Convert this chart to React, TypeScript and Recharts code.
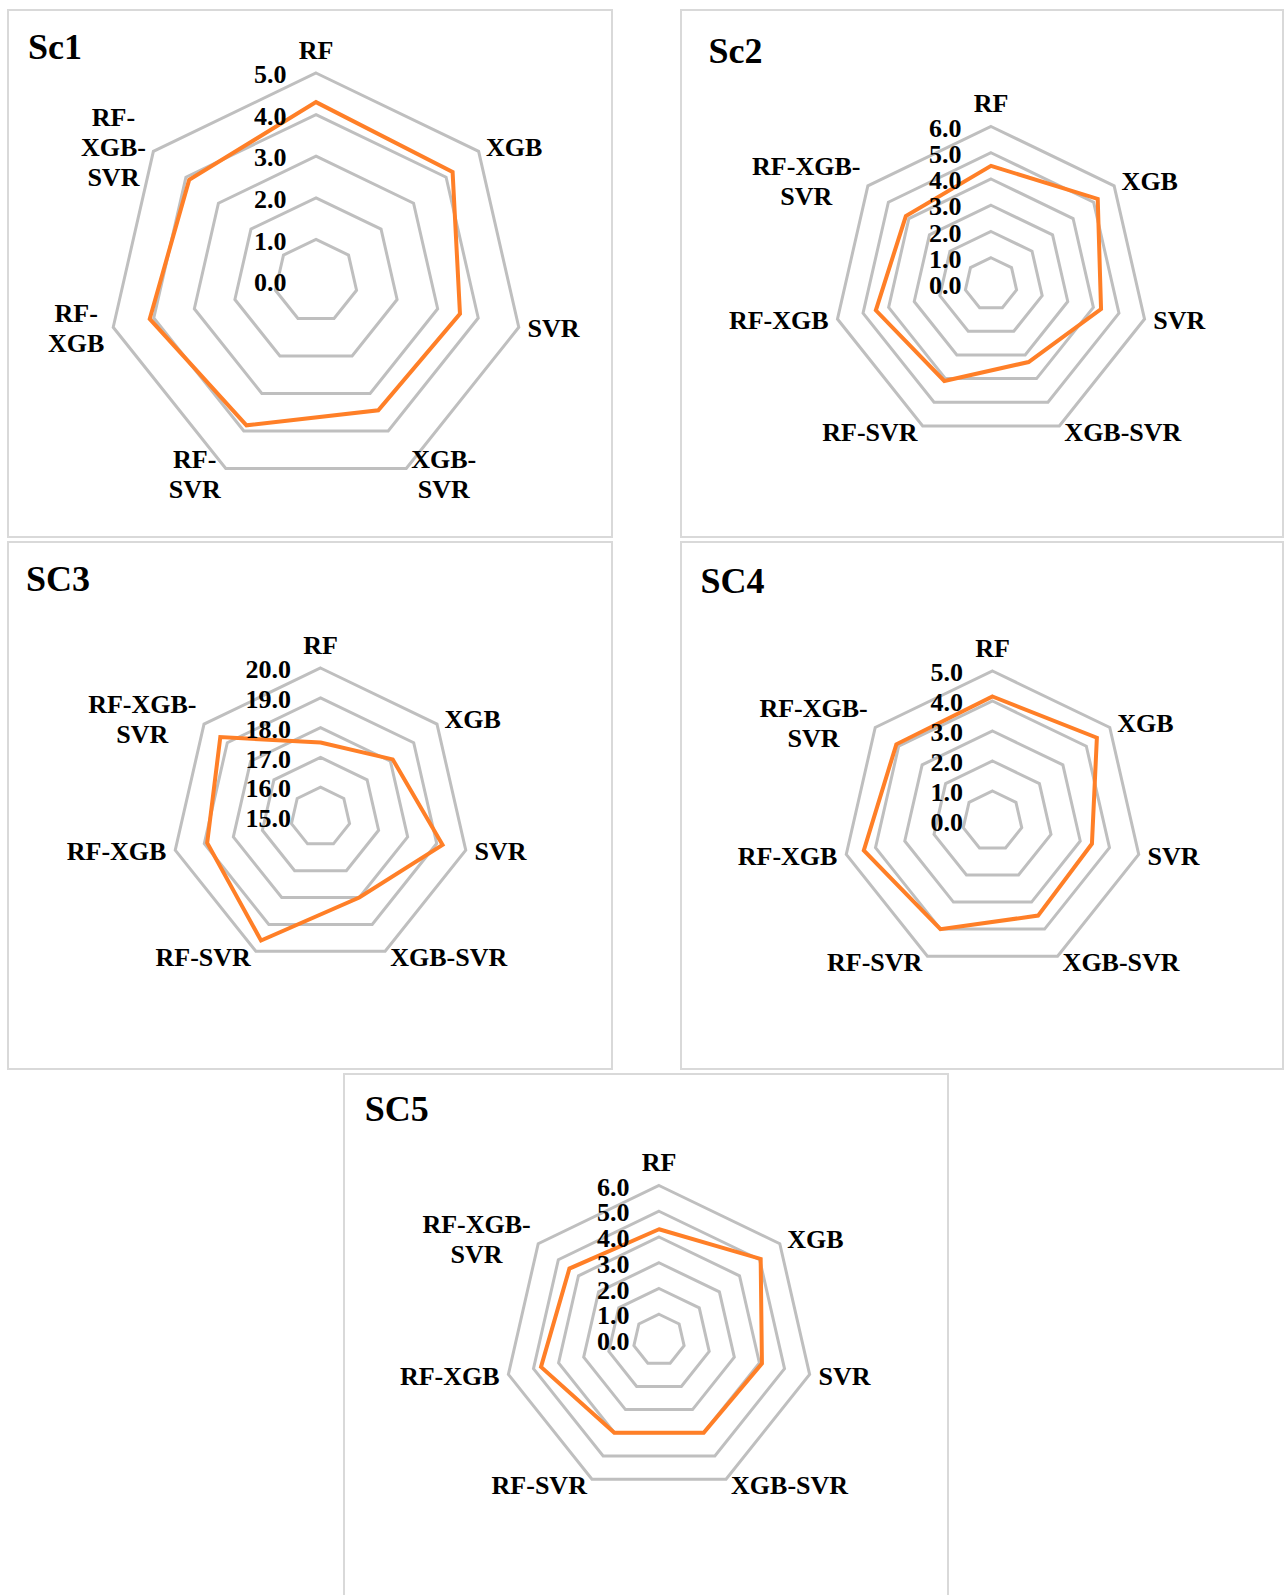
import React from "react";
import {
  RadarChart,
  Radar,
  PolarGrid,
  PolarAngleAxis,
  PolarRadiusAxis,
} from "recharts";

const FONT = '"Liberation Serif", "Times New Roman", serif';
const GRID = "#bfbfbf";
const LINE = "#ff7f27";
const BORDER = "#d9d9d9";

const CATEGORIES = ["RF", "XGB", "SVR", "XGB-SVR", "RF-SVR", "RF-XGB", "RF-XGB-SVR"];

// one value per model, in CATEGORIES order
const SC1 = [4.3, 4.2, 3.55, 3.45, 3.85, 4.1, 3.9];
const SC2 = [4.5, 5.2, 4.3, 3.3, 4.1, 4.5, 4.15];
const SC3 = [17.5, 18.1, 19.2, 18.0, 19.6, 18.9, 19.3];
const SC4 = [4.15, 4.45, 3.4, 3.5, 4.0, 4.4, 4.1];
const SC5 = [4.3, 5.05, 4.1, 4.0, 4.0, 4.7, 4.45];

// radial scale per scenario: [min, max], one ring per unit
const DOMAIN_SC1 = [0, 5];
const DOMAIN_SC2 = [0, 6];
const DOMAIN_SC3 = [15, 20];
const DOMAIN_SC4 = [0, 5];
const DOMAIN_SC5 = [0, 6];

const TITLES = ["Sc1", "Sc2", "SC3", "SC4", "SC5"];

type Panel = {
  title: string;
  values: number[];
  domain: number[];
  left: number;
  top: number;
  width: number;
  height: number;
  cx: number;
  cy: number;
  r: number;
  wrap: number;
  titleX: number;
  titleBase: number;
};

const PANELS: Panel[] = [
  { title: TITLES[0], values: SC1, domain: DOMAIN_SC1, left: 7, top: 9, width: 606, height: 529, cx: 309, cy: 272, r: 208, wrap: 4, titleX: 21, titleBase: 50 },
  { title: TITLES[1], values: SC2, domain: DOMAIN_SC2, left: 680, top: 9, width: 604, height: 529, cx: 311, cy: 275, r: 157.5, wrap: 7, titleX: 28.5, titleBase: 53.5 },
  { title: TITLES[2], values: SC3, domain: DOMAIN_SC3, left: 7, top: 541, width: 606, height: 529, cx: 313.5, cy: 276, r: 149, wrap: 7, titleX: 19, titleBase: 50 },
  { title: TITLES[3], values: SC4, domain: DOMAIN_SC4, left: 680, top: 541, width: 604, height: 529, cx: 312.5, cy: 280, r: 150, wrap: 7, titleX: 20.6, titleBase: 52 },
  { title: TITLES[4], values: SC5, domain: DOMAIN_SC5, left: 343, top: 1073, width: 606, height: 540, cx: 316, cy: 267, r: 154.5, wrap: 7, titleX: 21.7, titleBase: 47.5 },
];

const LABEL_SIZE = 26;
const LINE_HEIGHT = 30;
const HALF_CAP = 8.6;

// Times bold advance widths (em) for the glyphs used in the labels
const GLYPH: Record<string, number> = {
  R: 0.722, F: 0.611, X: 0.722, G: 0.778, B: 0.667, S: 0.556, V: 0.722, "-": 0.333,
};

function textWidth(s: string) {
  let w = 0;
  for (const ch of s) w += (GLYPH[ch] ?? 0.5) * LABEL_SIZE;
  return w;
}

// break a model name after its hyphens so no line exceeds maxChars
function wrapLabel(label: string, maxChars: number) {
  const parts = label.match(/[^-]+-?/g) ?? [label];
  const lines: string[] = [];
  let cur = "";
  for (const p of parts) {
    if (cur && (cur + p).length > maxChars) {
      lines.push(cur);
      cur = p;
    } else {
      cur += p;
    }
  }
  if (cur) lines.push(cur);
  return lines;
}

function AngleTick(props: any) {
  const { payload, cfg } = props;
  const i = CATEGORIES.indexOf(payload.value);
  const a = ((90 - (i * 360) / CATEGORIES.length) * Math.PI) / 180;
  const cos = Math.cos(a);
  const sin = Math.sin(a);
  const vx = cfg.cx + cfg.r * cos;
  const vy = cfg.cy - cfg.r * sin;
  const lines = wrapLabel(payload.value, cfg.wrap);

  const style = { fontFamily: FONT, fontWeight: 700, fontSize: LABEL_SIZE, fill: "#000" };

  if (Math.abs(cos) < 0.01) {
    return (
      <text x={vx} y={vy - 14.5} textAnchor="middle" style={style}>
        {payload.value}
      </text>
    );
  }

  const blockW = Math.max(...lines.map(textWidth));
  const gap = 2 + 7 * Math.abs(cos);
  const bx = cos > 0 ? vx + gap + blockW / 2 : vx - gap - blockW / 2;
  const centerY = vy - 7 * sin;
  const firstBase = centerY - ((lines.length - 1) * LINE_HEIGHT) / 2 + HALF_CAP;

  return (
    <text textAnchor="middle" style={style}>
      {lines.map((ln, k) => (
        <tspan key={k} x={bx} y={firstBase + k * LINE_HEIGHT}>
          {ln}
        </tspan>
      ))}
    </text>
  );
}

function RadiusTick(props: any) {
  const { x, y, payload } = props;
  return (
    <text
      x={x - 29.5}
      y={y + 1.5 + HALF_CAP}
      textAnchor="end"
      style={{ fontFamily: FONT, fontWeight: 700, fontSize: LABEL_SIZE, fill: "#000" }}
    >
      {Number(payload.value).toFixed(1)}
    </text>
  );
}

function ScenarioRadar({ cfg }: { cfg: Panel }) {
  const data = CATEGORIES.map((name, i) => ({ name, v: cfg.values[i] }));
  const [lo, hi] = cfg.domain;

  return (
    <div
      style={{
        position: "absolute",
        left: cfg.left,
        top: cfg.top,
        width: cfg.width,
        height: cfg.height,
      }}
    >
      <div
        style={{
          position: "absolute",
          inset: 0,
          border: `2px solid ${BORDER}`,
          boxSizing: "border-box",
        }}
      />
      <div
        style={{
          position: "absolute",
          left: cfg.titleX,
          top: cfg.titleBase - 30,
          fontFamily: FONT,
          fontWeight: 700,
          fontSize: 36,
          lineHeight: "36px",
          color: "#000",
          whiteSpace: "nowrap",
        }}
      >
        {cfg.title}
      </div>
      <div style={{ position: "absolute", left: 0, top: 0 }}>
        <RadarChart
          width={cfg.width}
          height={cfg.height}
          data={data}
          cx={cfg.cx}
          cy={cfg.cy}
          outerRadius={cfg.r}
          margin={{ top: 0, right: 0, bottom: 0, left: 0 }}
        >
          <PolarGrid
            gridType="polygon"
            radialLines={false}
            stroke={GRID}
            strokeWidth={3}
          />
          <PolarAngleAxis
            dataKey="name"
            axisLine={false}
            tickLine={false}
            tick={(p: any) => <AngleTick {...p} cfg={cfg} />}
          />
          <PolarRadiusAxis
            angle={90}
            domain={[lo, hi]}
            tickCount={hi - lo + 1}
            axisLine={false}
            tickLine={false}
            tick={(p: any) => <RadiusTick {...p} />}
          />
          <Radar
            dataKey="v"
            stroke={LINE}
            strokeWidth={4}
            fill="none"
            fillOpacity={0}
            dot={false}
            isAnimationActive={false}
          />
        </RadarChart>
      </div>
    </div>
  );
}

export default function App() {
  return (
    <div
      style={{
        position: "absolute",
        left: 0,
        top: 0,
        width: 1285,
        height: 1595,
        overflow: "hidden",
        background: "#fff",
      }}
    >
      {PANELS.map((p) => (
        <ScenarioRadar key={p.title} cfg={p} />
      ))}
    </div>
  );
}
